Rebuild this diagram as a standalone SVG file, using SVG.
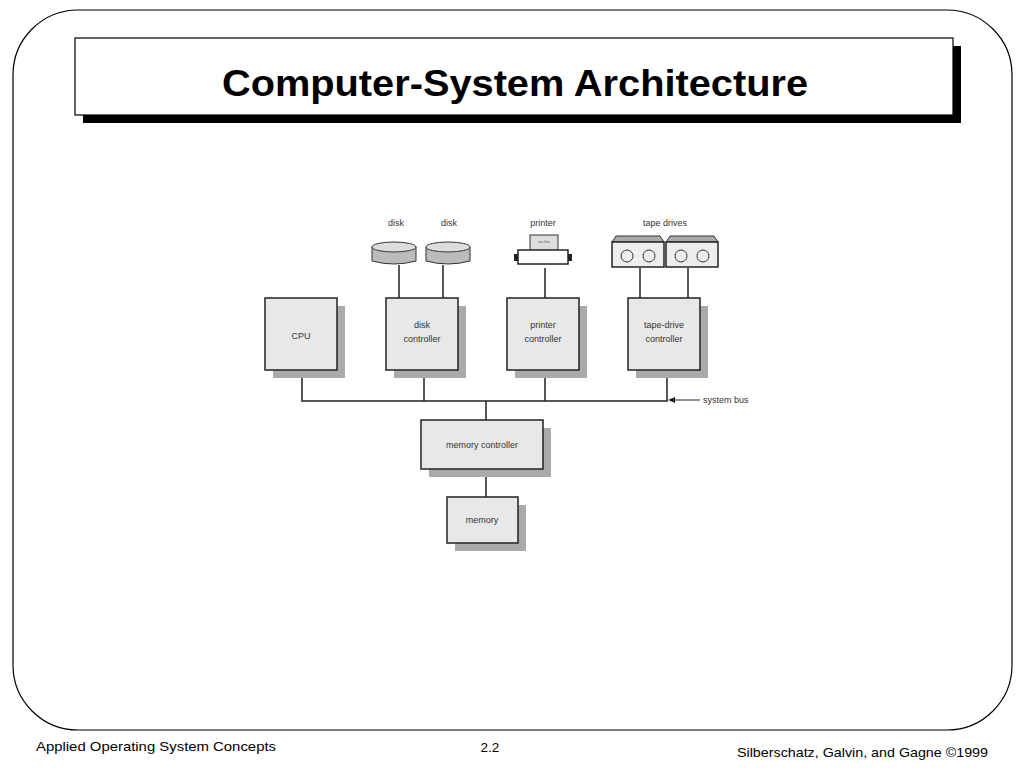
<svg xmlns="http://www.w3.org/2000/svg" width="1024" height="768" viewBox="0 0 1024 768">
<style>
.b{fill:#e8e8e8;stroke:#222;stroke-width:1.5}
.s{fill:#aaa}
.t{font-family:"Liberation Sans",Arial,sans-serif;font-size:9px;fill:#333;text-anchor:middle}
.f{font-family:"Liberation Sans",Arial,sans-serif;font-size:13.5px;fill:#000}
.l{stroke:#222;stroke-width:1.5;fill:none}
</style>
<rect width="1024" height="768" fill="#fff"/>
<rect x="13" y="10" width="999" height="720" rx="65" fill="none" stroke="#000" stroke-width="1.2"/>
<rect x="83" y="46" width="878" height="77" fill="#000"/>
<rect x="75" y="38" width="878" height="77" fill="#fff" stroke="#000" stroke-width="1.2"/>
<text x="515" y="96" text-anchor="middle" font-family="Liberation Sans,Arial,sans-serif" font-weight="bold" font-size="37" textLength="586" lengthAdjust="spacingAndGlyphs">Computer-System Architecture</text>
<g id="connectors">
<path class="l" d="M302 370V401H667V370M424 370V401M545 370V401M486 401V420M486 469V497M399 265V298M443 265V298M545 268V298M640 268V298M688 268V298"/>
<path d="M700 400H672" stroke="#222" stroke-width="1"/><path d="M668 400l7-3v6z" fill="#222"/>
<text x="703" y="403" class="t" style="text-anchor:start">system bus</text>
</g>
<g id="cpu"><rect class="s" x="273" y="306" width="72" height="72"/><rect class="b" x="265" y="298" width="72" height="72"/><text class="t" x="301" y="339">CPU</text></g>
<g id="disk-controller"><rect class="s" x="394" y="306" width="72" height="72"/><rect class="b" x="386" y="298" width="72" height="72"/><text class="t" x="422" y="328">disk</text><text class="t" x="422" y="342">controller</text></g>
<g id="printer-controller"><rect class="s" x="515" y="306" width="72" height="72"/><rect class="b" x="507" y="298" width="72" height="72"/><text class="t" x="543" y="328">printer</text><text class="t" x="543" y="342">controller</text></g>
<g id="tape-controller"><rect class="s" x="636" y="306" width="72" height="72"/><rect class="b" x="628" y="298" width="72" height="72"/><text class="t" x="664" y="328">tape-drive</text><text class="t" x="664" y="342">controller</text></g>
<g id="memory-controller"><rect class="s" x="429" y="428" width="122" height="49"/><rect class="b" x="421" y="420" width="122" height="49"/><text class="t" x="482" y="448">memory controller</text></g>
<g id="memory"><rect class="s" x="455" y="505" width="71" height="46"/><rect class="b" x="447" y="497" width="71" height="46"/><text class="t" x="482" y="523">memory</text></g>
<g id="disk1"><text class="t" x="396" y="226">disk</text><path d="M372 247v14q22 6 44 0v-14z" fill="#bbb" stroke="#333"/><ellipse cx="394" cy="247" rx="22" ry="5" fill="#ddd" stroke="#333"/></g>
<g id="disk2"><text class="t" x="449" y="226">disk</text><path d="M426 247v14q22 6 44 0v-14z" fill="#bbb" stroke="#333"/><ellipse cx="448" cy="247" rx="22" ry="5" fill="#ddd" stroke="#333"/></g>
<g id="printer"><text class="t" x="543" y="226">printer</text><rect x="530" y="235" width="28" height="18" fill="#ddd" stroke="#333"/><rect x="518" y="250" width="50" height="14" fill="#fff" stroke="#222" stroke-width="1.5"/><rect x="514" y="254" width="4" height="7" fill="#222"/><rect x="568" y="254" width="4" height="7" fill="#222"/><text x="544" y="243" font-size="4" text-anchor="middle" font-family="Liberation Sans,sans-serif" fill="#555">sin fire</text></g>
<g id="tapes"><text class="t" x="665" y="226">tape drives</text>
<path d="M616 236h44l4 6h-52z" fill="#aaa" stroke="#333"/><rect x="612" y="242" width="52" height="25" fill="#eee" stroke="#222" stroke-width="1.5"/><circle cx="627" cy="256" r="6" fill="none" stroke="#333"/><circle cx="649" cy="256" r="6" fill="none" stroke="#333"/>
<path d="M670 236h44l4 6h-52z" fill="#aaa" stroke="#333"/><rect x="666" y="242" width="52" height="25" fill="#eee" stroke="#222" stroke-width="1.5"/><circle cx="681" cy="256" r="6" fill="none" stroke="#333"/><circle cx="703" cy="256" r="6" fill="none" stroke="#333"/></g>
<text class="f" x="36" y="751" textLength="240" lengthAdjust="spacingAndGlyphs">Applied Operating System Concepts</text>
<text class="f" x="490" y="752" text-anchor="middle">2.2</text>
<text class="f" x="737" y="757" textLength="251" lengthAdjust="spacingAndGlyphs">Silberschatz, Galvin, and Gagne ©1999</text>
</svg>
